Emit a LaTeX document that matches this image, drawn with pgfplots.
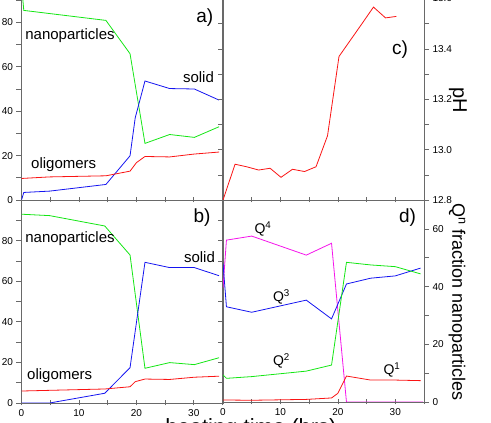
\documentclass[border=0pt]{standalone}
\usepackage{fontspec}
\setmainfont{Liberation Sans}
\usepackage{pgfplots}
\pgfplotsset{compat=1.18}
\definecolor{cgreen}{RGB}{20,230,20}
\definecolor{cblue}{RGB}{20,20,240}
\definecolor{cred}{RGB}{250,20,20}
\definecolor{cmag}{RGB}{245,20,235}
\definecolor{axgray}{RGB}{105,105,105}

\pgfplotsset{
  panel/.style={
    scale only axis, width=201pt, anchor=south west,
    xmin=0, xmax=35, xtick={0,10,20,30}, minor xtick={5,15,25,35},
    xtick pos=bottom, xtick align=center, ytick align=outside,
    major tick length=5pt, minor tick length=5pt,
    tick style={axgray, line width=0.6pt},
    axis line style={axgray, line width=0.7pt},
    /pgf/number format/assume math mode=true,
    ticklabel style={font=\fontsize{10}{12}\selectfont, text=black},
    every axis plot/.append style={line width=0.8pt, mark=none},
  },
}

\begin{document}
\begin{tikzpicture}
\path[use as bounding box, clip] (0pt,0pt) rectangle (491pt,423pt);

% a) mass fractions, first series
\begin{axis}[panel, at={(21.5pt,223pt)}, height=222pt,
  ymin=0, ymax=100, ytick={0,20,...,80}, minor ytick={10,30,...,90},
  ytick pos=left, xticklabels={}]
  \addplot[cgreen] coordinates {(0,97) (0.4,85.4) (14.7,80.9) (18.9,65.9)
    (21.5,25.5) (25.8,29.5) (30.1,28.2) (34.4,33)};
  \addplot[cblue] coordinates {(0,0) (0.4,3.4) (4.9,4) (14.7,7) (18.9,19.9)
    (19.8,37) (21.5,53.6) (25.8,50.2) (30.1,50) (34.4,45)};
  \addplot[cred] coordinates {(0,9.7) (4.9,10.4) (14.7,10.9) (18.9,13)
    (20,16.8) (21.5,19.6) (25.8,19.4) (30.1,20.7) (34.4,21.6)};
\end{axis}

% b) mass fractions, second series
\begin{axis}[panel, at={(21.5pt,20pt)}, height=203pt,
  ymin=0, ymax=100, ytick={0,20,...,80}, minor ytick={10,30,...,90},
  ytick pos=left]
  \addplot[cgreen] coordinates {(0,93) (4.9,92.3) (14.5,87.2) (18.9,72.9)
    (21.5,17.1) (25.8,19.9) (30.1,18.9) (34.4,22.3)};
  \addplot[cblue] coordinates {(0,0) (4.9,0) (14.5,4.8) (18.9,17.4)
    (21.5,69.3) (25.8,66.7) (30.1,66.7) (34.4,62.7)};
  \addplot[cred] coordinates {(0,5.9) (14.5,6.9) (18.9,8) (19.8,10.5)
    (21.5,11.8) (25.8,11.6) (30.1,12.7) (34.4,13.2)};
\end{axis}
% inward ticks on the right edge of b)
\begin{axis}[panel, at={(21.5pt,20pt)}, height=203pt,
  ymin=0, ymax=100, axis x line=none, axis y line*=right,
  ytick={10,20,...,90}, yticklabels={}, ytick align=inside]
\end{axis}

% c) pH
\begin{axis}[panel, at={(223pt,223pt)}, height=201.5pt,
  ymin=12.8, ymax=13.6, ytick={12.8,13.0,13.2,13.4,13.6},
  minor ytick={12.9,13.1,13.3,13.5},
  ytick pos=both, yticklabel pos=right, xticklabels={},
  yticklabel style={/pgf/number format/.cd, fixed, fixed zerofill, precision=1}]
  \addplot[cred] coordinates {(0,12.8) (2.1,12.942) (4.1,12.932) (6.2,12.919)
    (8.2,12.926) (10.1,12.89) (12.1,12.922) (14.2,12.913) (16.2,12.932)
    (18.2,13.055) (20.2,13.37) (22.2,13.435) (24.2,13.5) (26.2,13.566)
    (28.3,13.523) (30.2,13.529)};
\end{axis}

% d) Q^n fractions
\begin{axis}[panel, at={(223pt,21pt)}, height=202pt,
  ymin=0, ymax=70, ytick={0,20,40,60}, minor ytick={10,30,50,70},
  ytick pos=right, yticklabel pos=right]
  \addplot[cmag] coordinates {(0,39.4) (0.6,56.1) (5,57.5) (14.5,50.9)
    (18.9,55) (21.5,0) (34.8,0)};
  \addplot[cblue] coordinates {(0,48) (0.6,33) (5,31.1) (14.5,35.3)
    (18.9,28.8) (21.5,40.9) (25.7,42.9) (30,43.7) (34.4,46.4)};
  \addplot[cgreen] coordinates {(0,9.4) (0.6,8.2) (5,8.8) (14.5,10.7)
    (18.9,12.8) (21.5,48.4) (25.7,47.5) (30,46.9) (34.4,44.4)};
  \addplot[cred] coordinates {(0,0.7) (5,0.6) (14.5,0.9) (18.9,1.4) (20,3)
    (21.5,9) (25.7,7.6) (30,7.6) (34.4,7.4)};
\end{axis}

% annotations
\begin{scope}[every node/.style={inner sep=0pt, font=\fontsize{15}{18}\selectfont}]
  \node at (70pt,387pt) {nanoparticles};
  \node at (198.5pt,346pt) {solid};
  \node at (63.7pt,258pt) {oligomers};
  \node at (70pt,184pt) {nanoparticles};
  \node at (199.5pt,166pt) {solid};
  \node at (59.7pt,47pt) {oligomers};
\end{scope}
\begin{scope}[every node/.style={inner sep=0pt, font=\fontsize{19}{22}\selectfont}]
  \node at (204.7pt,405.5pt) {a)};
  \node at (202pt,205.5pt) {b)};
  \node at (400pt,373pt) {c)};
  \node at (407.5pt,205.5pt) {d)};
\end{scope}
\begin{scope}[every node/.style={inner sep=0pt, font=\fontsize{14}{16}\selectfont}]
  \node at (263pt,194pt) {Q\textsuperscript{4}};
  \node at (281.5pt,126pt) {Q\textsuperscript{3}};
  \node at (281.5pt,62pt) {Q\textsuperscript{2}};
  \node at (392pt,53pt) {Q\textsuperscript{1}};
\end{scope}
\node[inner sep=0pt, rotate=-90, font=\fontsize{20}{24}\selectfont] at (458pt,323pt) {pH};
\node[inner sep=0pt, rotate=-90, font=\fontsize{18}{21}\selectfont] at (457pt,121pt) {Q\textsuperscript{n} fraction nanoparticles};
\node[inner sep=0pt, anchor=north, font=\fontsize{22}{26}\selectfont] at (251pt,5pt) {heating time (hrs)};
\end{tikzpicture}
\end{document}
